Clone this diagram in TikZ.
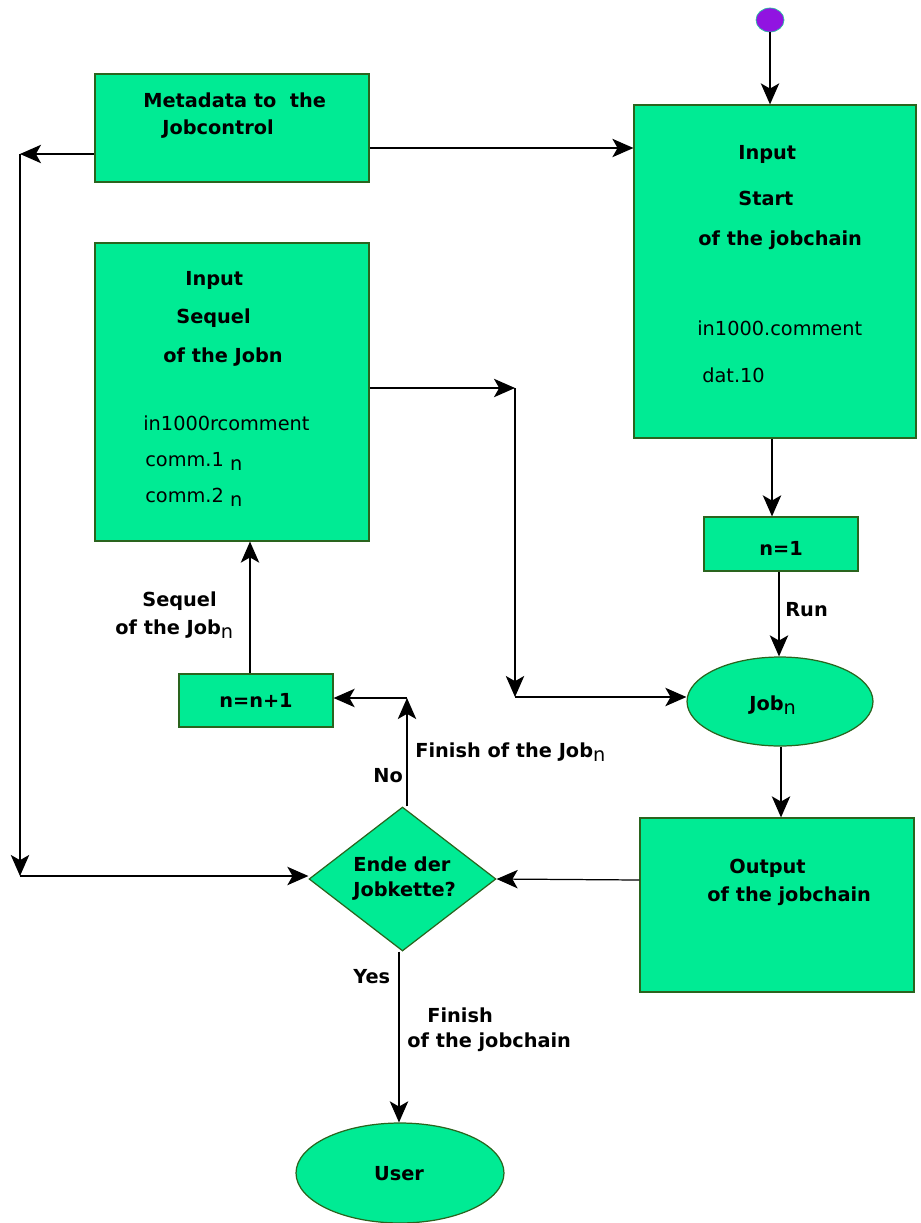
\documentclass[tikz,border=0pt]{standalone}
\usepackage{fontspec}
\setmainfont{DejaVu Sans}
\usetikzlibrary{positioning,arrows.meta,shapes.geometric}
\definecolor{boxgreen}{RGB}{0,235,148}
\definecolor{boxedge}{RGB}{42,100,30}
\definecolor{startviolet}{RGB}{145,20,225}
\definecolor{startrim}{RGB}{40,190,160}
\tikzset{block/.style={draw=boxedge,fill=boxgreen,line width=0.7pt,inner sep=0pt}}
\tikzset{boldtext/.style={anchor=base west,inner sep=0pt,font=\fontsize{11}{13}\selectfont\bfseries}}
\tikzset{plaintext/.style={anchor=base west,inner sep=0pt,font=\fontsize{11}{13}\selectfont}}
\tikzset{flow/.style={-{Stealth[length=12pt,width=10.5pt,inset=3pt]},line width=0.7pt}}
\newcommand{\subn}{\raisebox{-2.5pt}{\normalfont n}}

\begin{document}
\begin{tikzpicture}[x=0.02cm,y=-0.02cm]
	\useasboundingbox (0,0) rectangle (920,1223);

	%% Blocks
	\node[draw=startrim,fill=startviolet,ellipse,minimum width=0.56cm,minimum height=0.48cm,inner sep=0pt] (start) at (770,20) {};
	\node[block,minimum width=5.48cm,minimum height=2.16cm] (meta) at (232,128) {};
	\node[block,minimum width=5.64cm,minimum height=6.66cm] (input) at (775,271.5) {};
	\node[block,minimum width=5.48cm,minimum height=5.96cm] (sequel) at (232,392) {};
	\node[block,minimum width=3.08cm,minimum height=1.08cm] (none) at (781,544) {};
	\node[block,ellipse,minimum width=3.72cm,minimum height=1.78cm] (job) at (780,701.5) {};
	\node[block,minimum width=3.08cm,minimum height=1.06cm] (nplus) at (256,700.5) {};
	\node[block,minimum width=5.48cm,minimum height=3.48cm] (output) at (777,905) {};
	\node[block,diamond,minimum width=3.74cm,minimum height=2.88cm] (ende) at (402.5,879) {};
	\node[block,ellipse,minimum width=4.16cm,minimum height=2cm] (user) at (400,1173) {};

	%% Texts in the blocks
	\node[boldtext] (metaA) at (143,108) {Metadata to\ \ the};
	\node[boldtext] (metaB) at (162,135) {Jobcontrol};
	\node[boldtext] (inA) at (738,160) {Input};
	\node[boldtext] (inB) at (738,206) {Start};
	\node[boldtext] (inC) at (698,245) {of the jobchain};
	\node[plaintext] (inD) at (697,335) {in1000.comment};
	\node[plaintext] (inE) at (702,382) {dat.10};
	\node[boldtext] (seqA) at (185,285) {Input};
	\node[boldtext] (seqB) at (176,323) {Sequel};
	\node[boldtext] (seqC) at (163,362) {of the Jobn};
	\node[plaintext] (seqD) at (143,430) {in1000rcomment};
	\node[plaintext] (seqE) at (145,466) {comm.1 \subn};
	\node[plaintext] (seqF) at (145,502) {comm.2 \subn};
	\node[boldtext,anchor=center] (noneT) at (781,548) {n=1};
	\node[boldtext] (jobT) at (749,710) {Job\subn};
	\node[boldtext,anchor=center] (nplusT) at (256,700) {n=n+1};
	\node[boldtext] (outA) at (729,873) {Output};
	\node[boldtext] (outB) at (707,901) {of the jobchain};
	\node[boldtext] (endeA) at (353,871) {Ende der};
	\node[boldtext] (endeB) at (353,896) {Jobkette?};
	\node[boldtext,anchor=center] (userT) at (399,1174) {User};

	%% Connector labels
	\node[boldtext] (run) at (785,616) {Run};
	\node[boldtext] (seqL1) at (142,606) {Sequel};
	\node[boldtext] (seqL2) at (115,634) {of the Job\subn};
	\node[boldtext] (finjob) at (415,757) {Finish of the Job\subn};
	\node[boldtext] (no) at (373,782) {No};
	\node[boldtext] (yes) at (353,983) {Yes};
	\node[boldtext] (finA) at (427,1022) {Finish};
	\node[boldtext] (finB) at (407,1047) {of the jobchain};

	%% Corners
	\coordinate (lefttop) at (20,154);
	\coordinate (leftbot) at (20,876);
	\coordinate (midtop) at (515,388);
	\coordinate (midbot) at (515,697);
	\coordinate (nocorner) at (407,698);

	%% Connectors
	\draw[flow] (start.south) -- (start.south |- input.north);
	\draw[flow] (meta.east |- 0,148) -- (input.west |- 0,148);
	\draw[flow] (meta.west |- lefttop) -- (lefttop);
	\draw[flow] (lefttop) -- (leftbot);
	\draw[flow] (leftbot) -- (ende.west |- leftbot);
	\draw[flow] (sequel.east |- midtop) -- (midtop);
	\draw[flow] (midtop) -- (midbot);
	\draw[flow] (midbot) -- (job.west |- midbot);
	\draw[flow] (input.south -| 772,0) -- (none.north -| 772,0);
	\draw[flow] (none.south -| 779,0) -- (job.north -| 779,0);
	\draw[flow] (job.south -| 781,0) -- (output.north -| 781,0);
	\draw[flow] (output.west |- 0,880) -- (ende.east);
	\draw[flow] (ende.north -| nocorner) -- (nocorner);
	\draw[flow] (nocorner) -- (nplus.east |- nocorner);
	\draw[flow] (nplus.north -| 250,0) -- (sequel.south -| 250,0);
	\draw[flow] (ende.south -| 399,0) -- (user.north -| 399,0);

\end{tikzpicture}
\end{document}
